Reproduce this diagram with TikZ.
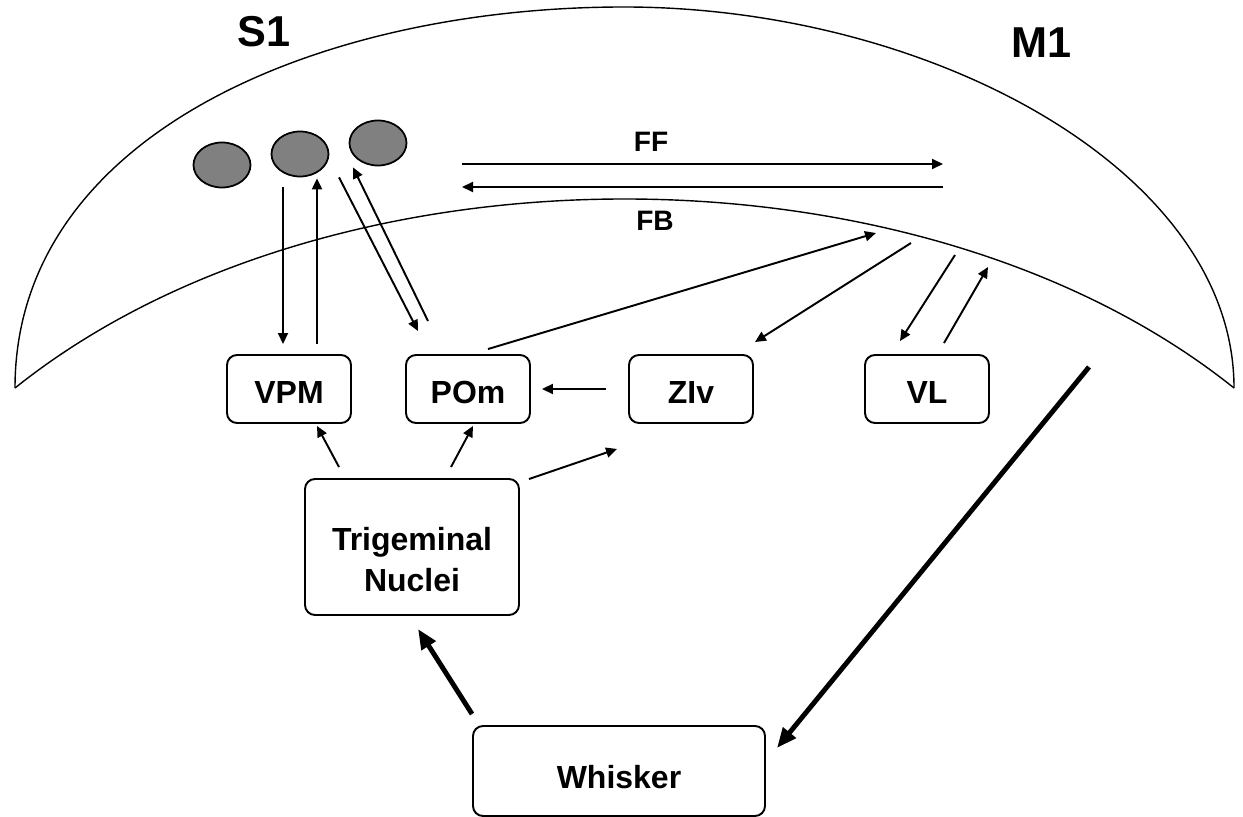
\documentclass[tikz,border=0pt]{standalone}
\usepackage{fontspec}
\setmainfont{Liberation Sans}
\usetikzlibrary{calc, positioning}
\usetikzlibrary{arrows.meta}
\usetikzlibrary{shapes.geometric}

\begin{document}
\begin{tikzpicture}[x=0.1mm,y=-0.1mm,
    region/.style={line width=0.4pt},
    cell/.style={ellipse,draw,fill=gray,line width=0.5pt,minimum width=5.7mm,minimum height=4.5mm,inner sep=0pt},
    nucleus/.style={draw,rounded corners=1mm,line width=0.55pt,minimum width=12.4mm,minimum height=6.8mm,
        text height=2.9mm,font=\fontsize{9.1}{11.7}\selectfont\bfseries},
    area/.style={font=\fontsize{12.3}{14}\selectfont\bfseries},
    flow/.style={font=\fontsize{8}{10}\selectfont\bfseries},
    link/.style={-{Triangle[length=1.1mm,width=1mm]},line width=0.55pt},
    heavy/.style={-{Triangle[length=2mm,width=1.6mm]},line width=1.4pt}]
\useasboundingbox (0,0) rectangle (1243,817);

% cortex
\draw[region] (15,388) .. controls (15,134) and (320,7) .. (624,7)
    .. controls (929,7) and (1234,170) .. (1234,388);
\draw[region] (15,388) .. controls (330,136) and (919,136) .. (1234,388);

\node[area] (s1) at (264,32) {S1};
\node[area] (m1) at (1042,43) {M1};

\node[cell] (c1) at (222,165) {};
\node[cell] (c2) at (300,154) {};
\node[cell] (c3) at (378,143) {};

% thalamus and brainstem
\node[nucleus] (vpm) at (289,389) {VPM};
\node[nucleus] (pom) at (468,389) {POm};
\node[nucleus] (ziv) at (691,389) {ZIv};
\node[nucleus] (vl) at (927,389) {VL};
\node[nucleus,text height={},minimum width=21.4mm,minimum height=13.6mm,align=center] (trig) at (412,547)
    {\rule{0pt}{4.9mm}Trigeminal\\Nuclei};
\node[nucleus,text height=3.5mm,minimum width=29.2mm,minimum height=9mm] (whisker) at (619,771) {Whisker};

% S1 <-> M1
\coordinate (ffs) at (462,164);
\coordinate (ffe) at (943,164);
\coordinate (fbs) at (943,187);
\coordinate (fbe) at (462,187);
\draw[link] (ffs) -- (ffe);
\draw[link] (fbs) -- (fbe);
\node[flow] (ff) at (651,142) {FF};
\node[flow] (fb) at (655,221) {FB};

% S1 <-> thalamus
\draw[link] ($(c2.south)+(-17,10)$) -- ($(vpm.north)+(-6,-10)$);
\draw[link] ($(vpm.north)+(28,-10)$) -- ($(c2.south)+(17,1)$);
\draw[link] ($(c3.south)+(-39,11)$) -- ($(pom.north)+(-50,-23)$);
\draw[link] ($(pom.north)+(-40,-33)$) -- ($(c3.south)+(-25,1)$);

% M1 loops
\coordinate (m1a) at (876,233);
\coordinate (m1b) at (911,243);
\coordinate (m1c) at (955,255);
\coordinate (m1d) at (988,267);
\coordinate (m1e) at (1089,367);
\draw[link] ($(pom.north)+(20,-5)$) -- (m1a);
\draw[link] (m1b) -- ($(ziv.north east)+(1,-12)$);
\draw[link] (m1c) -- ($(vl.north)+(-27,-13)$);
\draw[link] ($(vl.north)+(17,-11)$) -- (m1d);
\draw[heavy] (m1e) -- ($(whisker.east)+(11,-23)$);

% ascending
\draw[heavy] ($(whisker.north west)+(0,-11)$) -- ($(trig.south)+(6,13)$);
\draw[link] ($(trig.north)+(-73,-11)$) -- ($(vpm.south)+(28,2)$);
\draw[link] ($(trig.north)+(39,-11)$) -- ($(pom.south)+(5,2)$);
\draw[link] ($(trig.north east)+(9,1)$) -- ($(ziv.south west)+(-11,25)$);
\draw[link] ($(ziv.west)+(-22,0)$) -- ($(pom.east)+(11,0)$);
\end{tikzpicture}
\end{document}
